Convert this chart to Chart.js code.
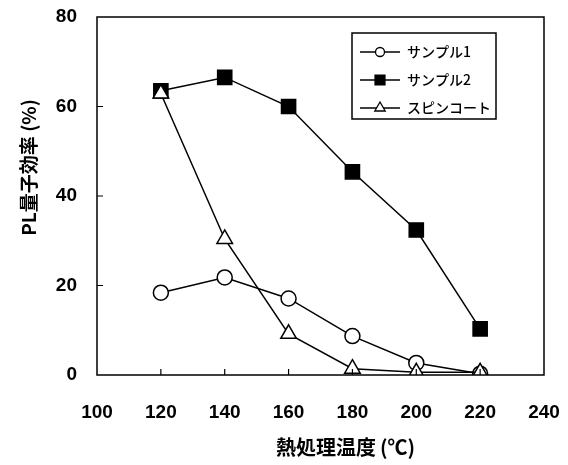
<!DOCTYPE html>
<html><head><meta charset="utf-8">
<script src="https://cdn.jsdelivr.net/npm/chart.js@4.4.0/dist/chart.umd.min.js"></script>
<style>html,body{margin:0;padding:0;background:#fff}#wrap{width:568px;height:465px}</style>
</head><body><div id="wrap"><canvas id="c" width="568" height="465"></canvas></div>
<script>
const temperatures = [120, 140, 160, 180, 200, 220];
const sample1 = [18.4, 21.8, 17.1, 8.7, 2.7, 0.3];
const sample2 = [63.5, 66.5, 60.0, 45.4, 32.4, 10.3];
const spinCoat = [62.9, 30.4, 9.2, 1.4, 0.6, 0.6];
const seriesLabels = ['サンプル1', 'サンプル2', 'スピンコート'];
const xTicks = [100, 120, 140, 160, 180, 200, 220, 240];
const yTicks = [0, 20, 40, 60, 80];

const pts = arr => temperatures.map((t, i) => ({x: t, y: arr[i]}));

const frameAndLegend = {
  id: 'frameAndLegend',
  afterDatasetsDraw(chart) {
    const ctx = chart.ctx, a = chart.chartArea;
    const xs = chart.scales.x, ys = chart.scales.y;
    ctx.save();
    ctx.strokeStyle = '#000';
    ctx.lineWidth = 1.5;
    ctx.strokeRect(a.left, a.top, a.right - a.left, a.bottom - a.top);
    ctx.lineWidth = 1.2;
    ctx.beginPath();
    xTicks.slice(1, -1).forEach(v => { const px = xs.getPixelForValue(v); ctx.moveTo(px, a.bottom); ctx.lineTo(px, a.bottom - 6); });
    yTicks.slice(1, -1).forEach(v => { const py = ys.getPixelForValue(v); ctx.moveTo(a.left, py); ctx.lineTo(a.left + 6, py); });
    ctx.stroke();
    // legend
    const bx = 352, by = 33, bw = 144, bh = 86;
    ctx.fillStyle = '#fff';
    ctx.fillRect(bx, by, bw, bh);
    ctx.lineWidth = 1.5;
    ctx.strokeRect(bx, by, bw, bh);
    chart.data.datasets.forEach((ds, i) => {
      const yy = by + 19 + i * 28;
      ctx.lineWidth = 1.3;
      ctx.strokeStyle = '#000';
      ctx.beginPath(); ctx.moveTo(bx + 8, yy); ctx.lineTo(bx + 48, yy); ctx.stroke();
      ctx.fillStyle = ds.pointBackgroundColor;
      Chart.helpers.drawPoint(ctx, {pointStyle: ds.pointStyle, radius: ds.pointStyle === 'rect' ? 7 : (ds.pointStyle === 'triangle' ? 6 : 4.5), borderWidth: 1.5}, bx + 28, yy);
      ctx.fillStyle = '#000';
      ctx.font = '500 14px "Noto Sans CJK JP"';
      ctx.textBaseline = 'middle';
      ctx.textAlign = 'left';
      ctx.fillText(ds.label, bx + 55, yy);
    });
    ctx.restore();
  }
};

const common = {borderColor: '#000', borderWidth: 1.5, pointBorderColor: '#000', pointBorderWidth: 1.5, tension: 0, fill: false};
new Chart(document.getElementById('c'), {
  type: 'scatter',
  data: {
    datasets: [
      Object.assign({label: seriesLabels[0], data: pts(sample1), pointStyle: 'circle', pointRadius: 7.5, backgroundColor: '#fff', pointBackgroundColor: '#fff', showLine: true, order: 2}, common),
      Object.assign({label: seriesLabels[1], data: pts(sample2), pointStyle: 'rect', pointRadius: 10, backgroundColor: '#000', pointBackgroundColor: '#000', showLine: true, order: 1}, common),
      Object.assign({label: seriesLabels[2], data: pts(spinCoat), pointStyle: 'triangle', pointRadius: 9, backgroundColor: '#fff', pointBackgroundColor: '#fff', showLine: true, order: 0}, common)
    ]
  },
  options: {
    responsive: false, animation: false, devicePixelRatio: 1,
    layout: {padding: {left: 0, right: 24, top: 17, bottom: 0}},
    plugins: {legend: {display: false}, tooltip: {enabled: false}},
    scales: {
      x: {
        type: 'linear', min: 100, max: 240,
        afterBuildTicks: s => { s.ticks = xTicks.map(v => ({value: v})); },
        afterFit: s => { s.height = 90; s.paddingLeft = 0; s.paddingRight = 0; },
        grid: {display: false, drawTicks: false},
        border: {display: false},
        ticks: {color: '#000', padding: 26, maxRotation: 0, autoSkip: false, font: {family: '"Liberation Sans", Arial', size: 19, weight: 'bold'}},
        title: {display: true, text: '\u2003\u2003\u2002熱処理温度\u2009(℃)', color: '#000', padding: {top: 0, bottom: 6}, font: {family: '"Noto Sans CJK JP"', size: 20, weight: 'bold'}}
      },
      y: {
        type: 'linear', min: 0, max: 80,
        afterBuildTicks: s => { s.ticks = yTicks.map(v => ({value: v})); },
        afterFit: s => { s.width = 97; s.paddingTop = 0; s.paddingBottom = 0; },
        grid: {display: false, drawTicks: false},
        border: {display: false},
        ticks: {color: '#000', padding: 20, font: {family: '"Liberation Sans", Arial', size: 19, weight: 'bold'}},
        title: {display: true, text: '\u2003\u2003\u2002\u2002PL量子効率 (%)', color: '#000', padding: {top: 17, bottom: 0}, font: {family: '"Noto Sans CJK JP"', size: 19, weight: 'bold'}}
      }
    }
  },
  plugins: [frameAndLegend]
});
</script></body></html>
